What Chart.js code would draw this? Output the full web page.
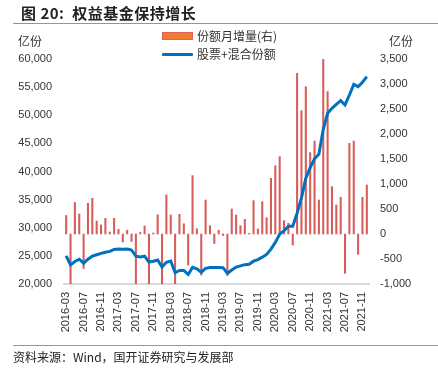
<!DOCTYPE html>
<html>
<head>
<meta charset="utf-8">
<script src="https://cdn.jsdelivr.net/npm/chart.js@4/dist/chart.umd.min.js"></script>
<style>
  html, body { margin: 0; padding: 0; background: #fff; }
  body { width: 438px; height: 373px; position: relative; overflow: hidden;
         font-family: "Noto Sans CJK SC", "Liberation Sans", sans-serif; color: #222; }
  #wrap { position: absolute; left: 0; top: 0; width: 438px; height: 373px; }
  .title { position: absolute; left: 21px; top: 2px; font-size: 15px; font-weight: bold; letter-spacing: 0.5px; }
  .rule { position: absolute; left: 13px; right: 0; height: 1px; background: #D9777A; }
  .unit { position: absolute; top: 32px; font-size: 12px; color: #333; }
  .leg { position: absolute; left: 162px; font-size: 12px; color: #333; line-height: 16px; }
  .leg span.sw { position: absolute; left: 0; }
  .leg span.tx { position: absolute; left: 35px; white-space: nowrap; }
  .src { position: absolute; left: 13px; top: 348px; font-size: 12px; color: #222; }
</style>
</head>
<body>
<div id="wrap"><canvas id="chart" width="438" height="373"></canvas></div>
<div class="title">图 20:&nbsp; 权益基金保持增长</div>
<div class="rule" style="top:23px"></div>
<div class="unit" style="left:18px">亿份</div>
<div class="unit" style="left:389px">亿份</div>
<div class="leg" style="top:28px">
  <span class="sw" style="top:4px;width:29px;height:6px;background:#ED7D31;border:1px solid #E0605A;"></span>
  <span class="tx">份额月增量(右)</span>
</div>
<div class="leg" style="top:46px">
  <span class="sw" style="top:7px;width:31px;height:3px;background:#0070C0;border-radius:1px;"></span>
  <span class="tx">股票+混合份额</span>
</div>
<div class="rule" style="top:345px"></div>
<div class="src">资料来源：Wind，国开证券研究与发展部</div>

<script>
// chart data
const months = [
    '2016-03', '2016-04', '2016-05', '2016-06', '2016-07', '2016-08', '2016-09', '2016-10', '2016-11', '2016-12',
    '2017-01', '2017-02', '2017-03', '2017-04', '2017-05', '2017-06', '2017-07', '2017-08', '2017-09', '2017-10',
    '2017-11', '2017-12', '2018-01', '2018-02', '2018-03', '2018-04', '2018-05', '2018-06', '2018-07', '2018-08',
    '2018-09', '2018-10', '2018-11', '2018-12', '2019-01', '2019-02', '2019-03', '2019-04', '2019-05', '2019-06',
    '2019-07', '2019-08', '2019-09', '2019-10', '2019-11', '2019-12', '2020-01', '2020-02', '2020-03', '2020-04',
    '2020-05', '2020-06', '2020-07', '2020-08', '2020-09', '2020-10', '2020-11', '2020-12', '2021-01', '2021-02',
    '2021-03', '2021-04', '2021-05', '2021-06', '2021-07', '2021-08', '2021-09', '2021-10', '2021-11', '2021-12'
];

// 股票+混合份额 (left axis, 亿份)
const shareTotal = [
    25000, 23400, 24000, 24400, 23700, 24400, 24950, 25200, 25450, 25650,
    25800, 26150, 26220, 26170, 26220, 26050, 24950, 24800, 24950, 23900,
    24050, 24270, 23000, 23850, 24090, 22000, 22400, 22400, 21700, 22950,
    22700, 22100, 22790, 22950, 22950, 22950, 22900, 21900, 22490, 23020,
    23230, 23440, 23500, 24060, 24330, 24770, 25250, 26200, 27400, 28860,
    29500, 30250, 30250, 32600, 35300, 38800, 40700, 42250, 43080, 47500,
    50350, 51240, 51950, 52600, 51830, 53600, 55500, 55090, 55870, 56860
];

// 份额月增量 (right axis, 亿份)
const monthlyChange = [
    370, -1100, 630, 400, -690, 613, 713, 260, 180, 313,
    40, 313, 93, -160, 75, -150, -1100, 30, 160, -1100,
    20, 385, -1100, 780, 380, -1100, 393, 205, -620, 1167,
    105, -820, 680, 165, -190, 75, -30, -830, 500, 380,
    167, 293, 15, 667, 100, 647, 327, 1113, 1367, 1547,
    267, 213, -220, 3213, 2467, 2947, 1627, 1860, 680, 3530,
    2847, 947, 580, 733, -787, 1813, 1860, -407, 733, 980
];

const tickFont = { family: "'Liberation Sans', Arial, sans-serif", size: 11 };

new Chart(document.getElementById('chart'), {
    data: {
        labels: months,
        datasets: [
            {
                type: 'line',
                label: '股票+混合份额',
                data: shareTotal,
                yAxisID: 'y',
                borderColor: '#0070C0',
                borderWidth: 3,
                pointRadius: 0,
                tension: 0,
                order: 1
            },
            {
                type: 'bar',
                label: '份额月增量(右)',
                data: monthlyChange,
                yAxisID: 'y1',
                backgroundColor: '#D65D5A',
                barThickness: 1.4,
                order: 2
            }
        ]
    },
    options: {
        responsive: false,
        animation: false,
        layout: { padding: { top: 59, left: 0, right: 0, bottom: 0 } },
        plugins: {
            legend: { display: false },
            tooltip: { enabled: false }
        },
        scales: {
            x: {
                offset: true,
                grid: { display: false, drawTicks: false },
                border: { display: true, color: '#D9D9D9', width: 2 },
                ticks: {
                    autoSkip: false,
                    minRotation: 90,
                    maxRotation: 90,
                    padding: 8,
                    color: '#333',
                    font: tickFont,
                    callback: function (value, index) {
                        return index % 4 === 0 ? months[index] : '';
                    }
                },
                afterFit: function (scale) { scale.height = 89; }
            },
            y: {
                position: 'left',
                min: 20000,
                max: 60000,
                grid: { display: false, drawTicks: false },
                border: { display: false },
                ticks: { stepSize: 5000, padding: 12, color: '#333', font: tickFont },
                afterFit: function (scale) { scale.width = 64; }
            },
            y1: {
                position: 'right',
                min: -1000,
                max: 3500,
                grid: { display: false, drawTicks: false },
                border: { display: false },
                ticks: { stepSize: 500, padding: 11, color: '#333', font: tickFont },
                afterFit: function (scale) { scale.width = 69; }
            }
        }
    }
});
</script>
</body>
</html>
